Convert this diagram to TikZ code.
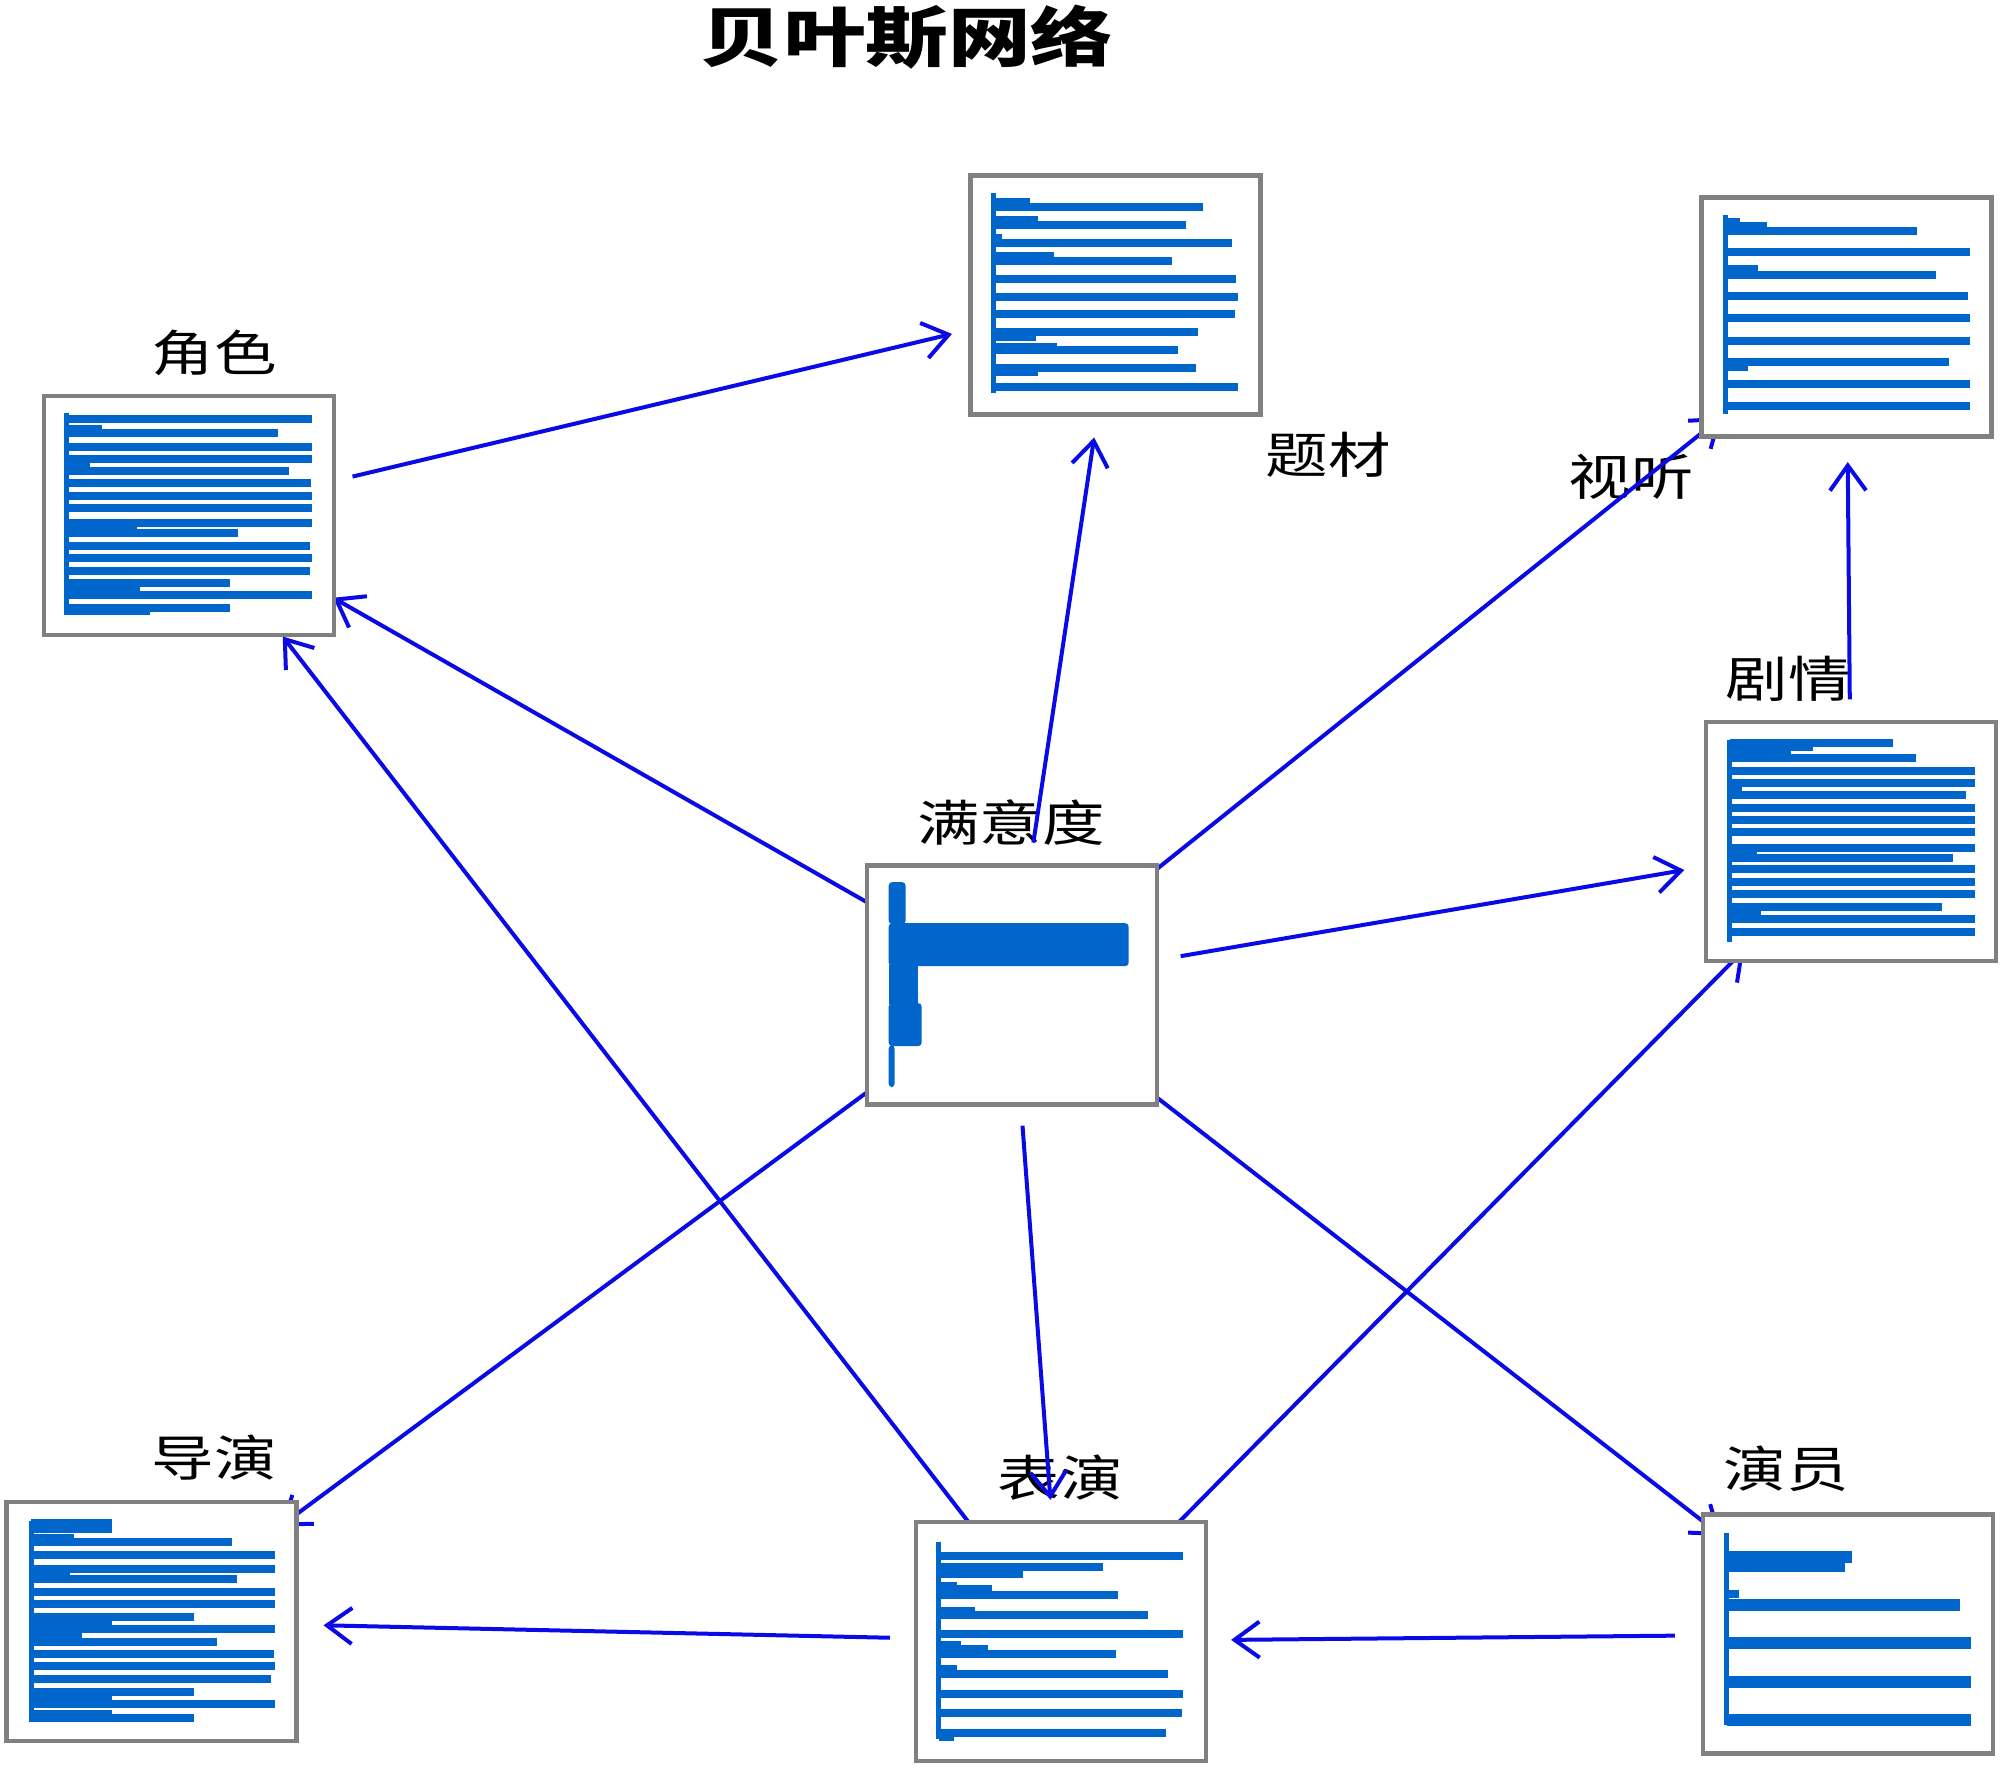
\documentclass[tikz,border=0pt]{standalone}
\usepackage{fontspec}
\newfontfamily\cjkfont[FakeStretch=1.27]{Noto Sans CJK SC}
\usetikzlibrary{arrows.meta,backgrounds}

\definecolor{barblue}{HTML}{0066CC}
\definecolor{chartgray}{HTML}{808080}
\definecolor{edgeblue}{HTML}{0A0AE6}

\begin{document}
\begin{tikzpicture}[
    x=0.01cm, y=-0.01cm,
    chart/.style={rectangle, draw=chartgray, line width=0.045cm, fill=white, minimum width=2.90cm, minimum height=2.39cm, inner sep=0pt},
    tag/.style={font=\cjkfont\fontsize{14pt}{16pt}\selectfont, inner sep=0pt},
    heading/.style={font=\cjkfont\bfseries\fontsize{18.5pt}{20pt}\selectfont, inner sep=0pt},
    bar/.style={draw=barblue, line width=0.08cm},
    thickbar/.style={draw=barblue, line width=0.125cm},
    axisline/.style={draw=barblue, line width=0.05cm},
    edge/.style={draw=edgeblue, line width=0.04cm, -{Straight Barb[length=0.25cm, width=0.36cm]}}
]
    \useasboundingbox (0,0) rectangle (2000,1770);

    % Title
    \node[heading] (title) at (907,37) {贝叶斯网络};

    % Charts
    \node[chart] (role) at (189,515.5) {};
    \node[chart] (topic) at (1115.5,295) {};
    \node[chart] (av) at (1846.5,317) {};
    \node[chart] (plot) at (1851,841.5) {};
    \node[chart] (sat) at (1012,985) {};
    \node[chart] (dir) at (151.5,1621.5) {};
    \node[chart] (act) at (1061,1641.5) {};
    \node[chart] (actor) at (1848,1634) {};

    % Bars
    \begin{scope}[shift={(role.north west)}]
        \draw[axisline] (25,19) -- (25,221);
        \foreach \y/\e in {25/270, 39/236, 35/60, 53/270, 65/270, 77/247, 73/48, 89/269, 102/270, 114/270, 129/270, 139/196, 134/95, 152/268, 164/270, 177/268, 189/188, 193/98, 201/270, 197/40, 214/188, 217/108}
            \draw[bar] (25,\y) -- (\e,\y);
    \end{scope}
    \begin{scope}[shift={(topic.north west)}]
        \draw[axisline] (25,20) -- (25,220);
        \foreach \y/\e in {34/235, 29/62, 52/218, 47/70, 70/264, 65/34, 88/204, 83/86, 106/268, 124/270, 141/267, 159/230, 164/68, 177/210, 174/89, 195/228, 199/70, 214/270}
            \draw[bar] (25,\y) -- (\e,\y);
    \end{scope}
    \begin{scope}[shift={(av.north west)}]
        \draw[axisline] (26,20) -- (26,219);
        \foreach \y/\e in {36/218, 27/41, 31/68, 57/271, 80/237, 74/59, 101/269, 123/271, 146/271, 167/250, 172/49, 189/271, 211/271}
            \draw[bar] (26,\y) -- (\e,\y);
    \end{scope}
    \begin{scope}[shift={(plot.north west)}]
        \draw[axisline] (26,20) -- (26,222);
        \foreach \y/\e in {23/189, 27/109, 38/212, 34/87, 51/271, 63/271, 75/262, 71/38, 88/271, 100/271, 112/271, 128/271, 138/249, 132/53, 149/271, 162/271, 174/271, 187/238, 191/57, 199/271, 212/271}
            \draw[bar] (26,\y) -- (\e,\y);
    \end{scope}
    \begin{scope}[shift={(sat.north west)}]
        \fill[barblue, rounded corners=1pt] (24,19) rectangle (41,61);
        \fill[barblue, rounded corners=1pt] (24,60) rectangle (264,103);
        \fill[barblue] (24,102) rectangle (53,141);
        \fill[barblue, rounded corners=1pt] (24,140) rectangle (57,183);
        \fill[barblue, rounded corners=1pt] (24,182) rectangle (30,224);
    \end{scope}
    \begin{scope}[shift={(dir.north west)}]
        \draw[axisline] (27,21) -- (27,222);
        \foreach \y/\e in {23/108, 29/108, 42/228, 38/70, 55/271, 69/271, 79/233, 74/66, 92/271, 104/271, 117/190, 121/108, 129/271, 142/213, 137/78, 154/270, 166/271, 179/267, 192/190, 196/108, 204/271, 218/190, 214/108}
            \draw[bar] (27,\y) -- (\e,\y);
    \end{scope}
    \begin{scope}[shift={(act.north west)}]
        \draw[axisline] (25,22) -- (25,219);
        \foreach \y/\e in {36/269, 47/189, 54/109, 75/204, 66/43, 69/78, 95/234, 91/61, 114/269, 134/202, 125/47, 129/74, 154/254, 149/43, 174/269, 193/268, 213/252, 217/40}
            \draw[bar] (25,\y) -- (\e,\y);
    \end{scope}
    \begin{scope}[shift={(actor.north west)}]
        \draw[axisline] (26,21) -- (26,213);
        \draw[bar] (26,82) -- (38,82);
        \foreach \y/\e in {45/151, 54/144, 93/259, 131/270, 170/270, 208/270}
            \draw[thickbar] (26,\y) -- (\e,\y);
    \end{scope}

    \begin{scope}[on background layer]
        % Labels
        \node[tag] (role-tag) at (214,353) {角色};
        \node[tag] (topic-tag) at (1328,455) {题材};
        \node[tag] (av-tag) at (1631,477) {视听};
        \node[tag] (plot-tag) at (1788,679) {剧情};
        \node[tag] (sat-tag) at (1011,823) {满意度};
        \node[tag] (dir-tag) at (214,1458) {导演};
        \node[tag] (act-tag) at (1060,1478) {表演};
        \node[tag] (actor-tag) at (1786,1469) {演员};

        % Arrows
        \draw[edge, shorten <=1.68cm, shorten >=1.68cm] (role.center) -- (topic.center);
        \draw[edge, shorten <=1.44cm, shorten >=1.44cm] (sat.center) -- (topic.center);
        \draw[edge, shorten <=1.20cm, shorten >=1.60cm] (sat.center) -- (av.center);
        \draw[edge, shorten <=1.42cm, shorten >=1.45cm] (plot.center) -- (av.center);
        \draw[edge, shorten <=1.71cm, shorten >=1.69cm] (sat.center) -- (plot.center);
        \draw[edge, shorten <=1.20cm, shorten >=1.66cm] (sat.center) -- (role.center);
        \draw[edge, shorten <=1.20cm, shorten >=1.53cm] (act.center) -- (role.center);
        \draw[edge, shorten <=1.20cm, shorten >=1.60cm] (sat.center) -- (dir.center);
        \draw[edge, shorten <=1.41cm, shorten >=1.42cm] (sat.center) -- (act.center);
        \draw[edge, shorten <=1.20cm, shorten >=1.52cm] (act.center) -- (plot.center);
        \draw[edge, shorten <=1.20cm, shorten >=1.60cm] (sat.center) -- (actor.center);
        \draw[edge, shorten <=1.71cm, shorten >=1.72cm] (act.center) -- (dir.center);
        \draw[edge, shorten <=1.73cm, shorten >=1.70cm] (actor.center) -- (act.center);
    \end{scope}

\end{tikzpicture}
\end{document}
